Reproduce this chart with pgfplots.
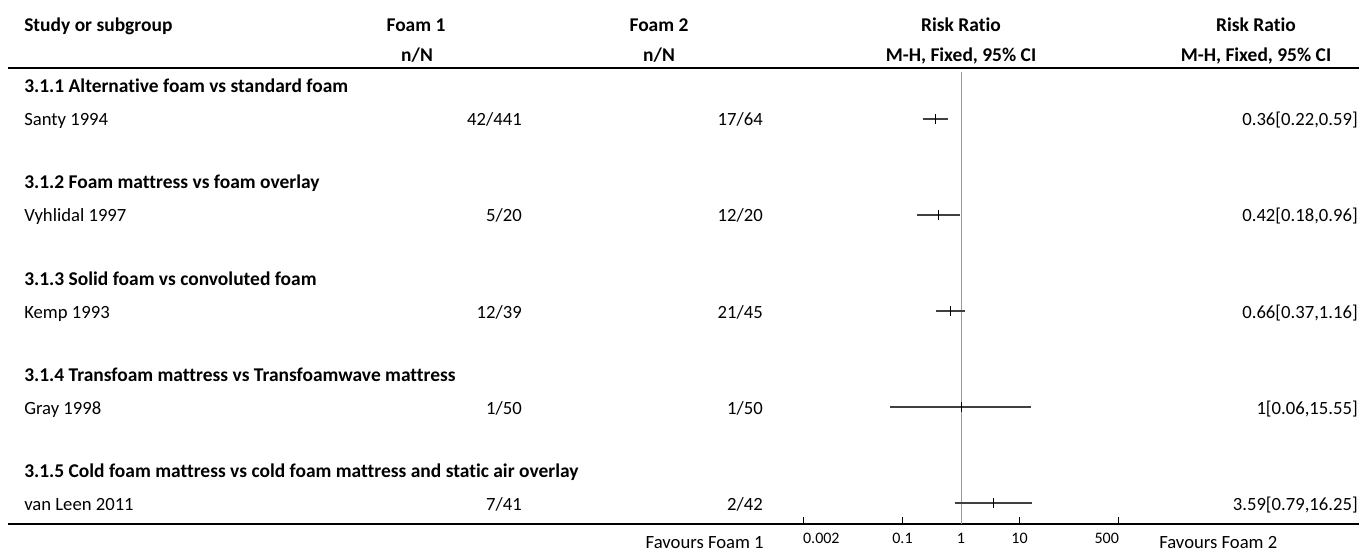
\documentclass[border=0pt]{standalone}
\usepackage{fontspec}
\setmainfont{Carlito}[Ligatures=NoCommon]
\usepackage{pgfplots}
\pgfplotsset{compat=1.18}
\usepackage{pgfplotstable}

% y = pixel height of the row above the axis line
\pgfplotstableread{
y   est  lo   hi
405 0.36 0.22 0.59
309 0.42 0.18 0.96
213 0.66 0.37 1.16
117 1.00 0.06 15.55
21  3.59 0.79 16.25
}\studies

\begin{document}
\begin{tikzpicture}[x=0.75pt,y=-0.75pt,
  hdr/.style={font=\fontsize{14.6}{16}\selectfont\bfseries, inner sep=0pt},
  txt/.style={font=\fontsize{14}{16}\selectfont, inner sep=0pt}]
\useasboundingbox (0,0) rectangle (1359,552);

% header
\node[hdr, anchor=base west] at (24,32) {Study or subgroup};
\node[hdr, anchor=base] at (416,32) {Foam 1};
\node[hdr, anchor=base] at (417,62) {n/N};
\node[hdr, anchor=base] at (659,32) {Foam 2};
\node[hdr, anchor=base] at (659,62) {n/N};
\node[hdr, anchor=base] at (961,32) {Risk Ratio};
\node[hdr, anchor=base] at (961,62) {M-H, Fixed, 95\% CI};
\node[hdr, anchor=base] at (1256,32) {Risk Ratio};
\node[hdr, anchor=base] at (1256,62) {M-H, Fixed, 95\% CI};
\draw[line width=1.5pt] (8,68) -- (1359,68);

% groups
\node[hdr, anchor=base west] at (24,93) {3.1.1 Alternative foam vs standard foam};
\node[txt, anchor=base west] at (24,126) {Santy 1994};
\node[txt, anchor=base east] at (522,126) {42/441};
\node[txt, anchor=base east] at (763,126) {17/64};
\node[txt, anchor=base east] at (1358,126) {0.36[0.22,0.59]};

\node[hdr, anchor=base west] at (24,189) {3.1.2 Foam mattress vs foam overlay};
\node[txt, anchor=base west] at (24,222) {Vyhlidal 1997};
\node[txt, anchor=base east] at (522,222) {5/20};
\node[txt, anchor=base east] at (763,222) {12/20};
\node[txt, anchor=base east] at (1358,222) {0.42[0.18,0.96]};

\node[hdr, anchor=base west] at (24,285) {3.1.3 Solid foam vs convoluted foam};
\node[txt, anchor=base west] at (24,318) {Kemp 1993};
\node[txt, anchor=base east] at (522,318) {12/39};
\node[txt, anchor=base east] at (763,318) {21/45};
\node[txt, anchor=base east] at (1358,318) {0.66[0.37,1.16]};

\node[hdr, anchor=base west] at (24,381) {3.1.4 Transfoam mattress vs Transfoamwave mattress};
\node[txt, anchor=base west] at (24,414) {Gray 1998};
\node[txt, anchor=base east] at (522,414) {1/50};
\node[txt, anchor=base east] at (763,414) {1/50};
\node[txt, anchor=base east] at (1358,414) {1[0.06,15.55]};

\node[hdr, anchor=base west] at (24,477) {3.1.5 Cold foam mattress vs cold foam mattress and static air overlay};
\node[txt, anchor=base west] at (24,510) {van Leen 2011};
\node[txt, anchor=base east] at (522,510) {7/41};
\node[txt, anchor=base east] at (763,510) {2/42};
\node[txt, anchor=base east] at (1358,510) {3.59[0.79,16.25]};

% bottom rule
\draw[line width=0.8pt] (8,524) -- (1359,524);
\node[txt, anchor=base east] at (764,548) {Favours Foam 1};
\node[txt, anchor=base west] at (1159,548) {Favours Foam 2};

\begin{axis}[at={(589.125pt,-393pt)}, anchor=south west,
  scale only axis, width=263.25pt, height=339pt,
  xmode=log, xmin=0.001, xmax=1000, ymin=0, ymax=452,
  axis line style={draw=none},
  ytick=\empty, xtick pos=lower,
  xtick={0.002,0.1,1,10,500},
  xticklabels={\makebox[0pt][l]{0.002},0.1,1,10,\makebox[0pt][r]{500}},
  minor xtick={},
  tick align=inside, major tick length=5pt,
  xtick style={black, line width=0.75pt},
  xticklabel style={font=\fontsize{12}{13}\selectfont, inner sep=0pt, yshift=-6.5pt},
  /pgf/number format/assume math mode=true,
  clip=false]
\draw[line width=1.9pt] (rel axis cs:0,0) -- (rel axis cs:1,0);
\addplot[black!40, line width=0.75pt] coordinates {(1,0) (1,452)};
\addplot[black!75, line width=1pt] coordinates {(0.22,405) (0.59,405)};
\addplot[black!75, line width=1pt] coordinates {(0.18,309) (0.96,309)};
\addplot[black!75, line width=1pt] coordinates {(0.37,213) (1.16,213)};
\addplot[black!75, line width=1pt] coordinates {(0.06,117) (15.55,117)};
\addplot[black!75, line width=1pt] coordinates {(0.79,21) (16.25,21)};
\addplot[only marks, mark=|, mark size=3.4pt, mark options={black, line width=0.75pt}] table[x=est, y=y] {\studies};
\end{axis}
\end{tikzpicture}
\end{document}
